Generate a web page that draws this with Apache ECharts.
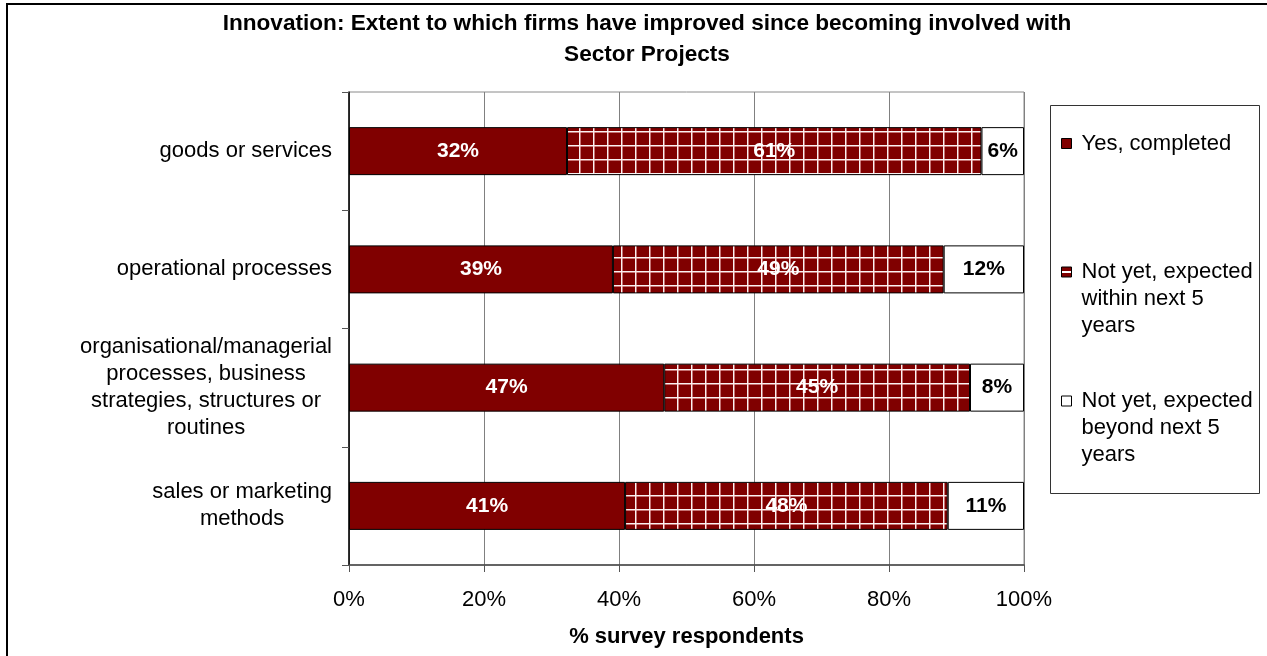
<!DOCTYPE html>
<html>
<head>
<meta charset="utf-8">
<title>Innovation: Extent to which firms have improved</title>
<script src="https://cdn.jsdelivr.net/npm/echarts@6/dist/echarts.min.js"></script>
<style>
  html, body { margin: 0; padding: 0; background: #fff; }
  #chart { width: 1267px; height: 656px; }
</style>
</head>
<body>
<div id="chart"></div>
<script>
// Survey categories (top to bottom)
const categories = [
  'goods or services',
  'operational processes',
  'organisational/managerial\nprocesses, business\nstrategies, structures or\nroutines',
  'sales or marketing\nmethods'
];

// Share of respondents (%) per answer
const yesCompleted = [32.3, 39.1, 46.7, 40.9];
const withinFiveYears = [61.4, 49.0, 45.3, 47.8];
const beyondFiveYears = [6.3, 11.9, 8.0, 11.3];

const seriesNames = [
  'Yes, completed',
  'Not yet, expected within next 5 years',
  'Not yet, expected beyond next 5 years'
];

// Value axis tick labels
const xTicks = [0, 20, 40, 60, 80, 100];

const FONT = '"Liberation Sans", Arial, sans-serif';
const DARK_RED = '#800000';

// Dark red tile with a white grid, used to fill the middle segments
function gridTile() {
  const c = document.createElement('canvas');
  c.width = 14; c.height = 14;
  const g = c.getContext('2d');
  g.fillStyle = DARK_RED;
  g.fillRect(0, 0, 14, 14);
  g.fillStyle = 'rgba(255,255,255,0.95)';
  g.fillRect(5, 0, 1, 14);
  g.fillRect(0, 5, 14, 1);
  g.fillStyle = 'rgba(255,210,210,0.55)';
  g.fillRect(6, 0, 1, 14);
  g.fillRect(0, 6, 14, 1);
  return c;
}
const gridFill = { image: gridTile(), repeat: 'repeat' };

// Small legend swatch: dark red with a white stripe across the middle
const stripeSwatch = {
  type: 'linear', x: 0, y: 0, x2: 0, y2: 1,
  colorStops: [
    { offset: 0, color: DARK_RED }, { offset: 0.38, color: DARK_RED },
    { offset: 0.38, color: '#fff' }, { offset: 0.6, color: '#fff' },
    { offset: 0.6, color: DARK_RED }, { offset: 1, color: DARK_RED }
  ]
};

const chart = echarts.init(document.getElementById('chart'), null, { renderer: 'canvas' });

function barLabel(color) {
  return {
    show: true,
    position: 'inside',
    color: color,
    fontFamily: FONT,
    fontWeight: 'bold',
    fontSize: 21,
    formatter: p => Math.round(p.value) + '%'
  };
}

function legendBlock(item, top, lines) {
  return {
    data: [item],
    left: 1061,
    top: top,
    orient: 'vertical',
    padding: 0,
    itemWidth: 10,
    itemHeight: 10,
    icon: 'rect',
    selectedMode: false,
    itemStyle: { borderColor: '#000', borderWidth: 1 },
    textStyle: {
      fontFamily: FONT, fontSize: 22, color: '#000', lineHeight: 27,
      rich: { t: { fontFamily: FONT, fontSize: 22, color: '#000', lineHeight: 27, padding: [0, 0, 0, 5] } }
    },
    formatter: () => lines
  };
}

const option = {
  backgroundColor: '#fff',
  animation: false,
  title: {
    text: 'Innovation: Extent to which firms have improved since becoming involved with\nSector Projects',
    left: 647,
    top: 8,
    padding: 0,
    textAlign: 'center',
    textStyle: { fontFamily: FONT, fontSize: 22.6, fontWeight: 'bold', color: '#000', lineHeight: 31 }
  },
  legend: [
    legendBlock(seriesNames[0], 130, '{t|Yes, completed}'),
    legendBlock({ name: seriesNames[1], itemStyle: { color: stripeSwatch } }, 204.5,
      '\n\n{t|Not yet, expected}\n{t|within next 5}\n{t|years}'),
    legendBlock(seriesNames[2], 333.5, '\n\n{t|Not yet, expected}\n{t|beyond next 5}\n{t|years}')
  ],
  graphic: [
    {
      type: 'rect', silent: true, z: -1,
      shape: { x: 7, y: 4, width: 1400, height: 800 },
      style: { fill: 'none', stroke: '#000', lineWidth: 2 }
    },
    {
      type: 'rect', silent: true,
      shape: { x: 1050.5, y: 105.5, width: 209, height: 388 },
      style: { fill: 'none', stroke: '#333', lineWidth: 1 }
    }
  ],
  grid: {
    left: 349, right: 243, top: 92, bottom: 91,
    show: true, borderColor: '#8a8a8a', borderWidth: 1, backgroundColor: 'transparent'
  },
  xAxis: {
    type: 'value',
    min: xTicks[0],
    max: xTicks[xTicks.length - 1],
    interval: xTicks[1] - xTicks[0],
    name: '% survey respondents',
    nameLocation: 'middle',
    nameGap: 61,
    nameTextStyle: { fontFamily: FONT, fontSize: 22, fontWeight: 'bold', color: '#000' },
    axisLine: { show: true, lineStyle: { color: '#444', width: 1.5 } },
    axisTick: { show: true, length: 7, inside: false, lineStyle: { color: '#555' } },
    axisLabel: { fontFamily: FONT, fontSize: 22, color: '#000', margin: 24, formatter: '{value}%' },
    splitLine: { show: true, lineStyle: { color: '#808080', width: 1 } }
  },
  yAxis: {
    type: 'category',
    data: categories,
    inverse: true,
    axisLine: { show: true, lineStyle: { color: '#000', width: 1.5 } },
    axisTick: { show: true, length: 7, alignWithLabel: false, lineStyle: { color: '#555' } },
    axisLabel: {
      margin: 17,
      align: 'right',
      fontFamily: FONT, fontSize: 22, color: '#000', lineHeight: 27,
      formatter: v => v.split('\n').map(l => '{c|' + l + '}').join('\n'),
      rich: { c: { align: 'center', fontFamily: FONT, fontSize: 22, color: '#000', lineHeight: 27 } }
    },
    splitLine: { show: false }
  },
  series: [
    {
      name: seriesNames[0], type: 'bar', stack: 'all', barWidth: 48,
      data: yesCompleted,
      itemStyle: { color: DARK_RED, borderColor: '#000', borderWidth: 1 },
      label: barLabel('#fff')
    },
    {
      name: seriesNames[1], type: 'bar', stack: 'all', barWidth: 48,
      data: withinFiveYears,
      itemStyle: { color: gridFill, borderColor: '#000', borderWidth: 1 },
      label: barLabel('#fff')
    },
    {
      name: seriesNames[2], type: 'bar', stack: 'all', barWidth: 48,
      data: beyondFiveYears,
      itemStyle: { color: '#fff', borderColor: '#000', borderWidth: 1 },
      label: barLabel('#000')
    }
  ]
};

chart.setOption(option);
</script>
</body>
</html>
